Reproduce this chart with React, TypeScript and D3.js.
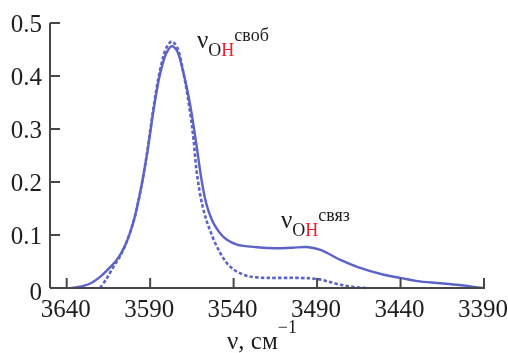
import React from "react";
import * as d3 from "d3";

// Wavenumbers (cm⁻¹) and absorbance of the two spectra
const solidNu = [3637, 3630, 3625, 3620, 3615, 3610, 3605, 3600, 3596, 3592, 3588, 3584, 3580, 3577, 3574, 3570, 3566, 3562.5, 3559, 3556, 3552, 3548, 3544, 3538, 3526, 3515, 3505, 3495, 3488, 3476, 3466, 3450, 3440, 3430, 3416, 3400, 3391];
const solidAbs = [0.0, 0.004, 0.01, 0.021, 0.036, 0.053, 0.08, 0.125, 0.18, 0.25, 0.335, 0.405, 0.445, 0.456, 0.448, 0.405, 0.345, 0.275, 0.2, 0.155, 0.122, 0.103, 0.091, 0.082, 0.077, 0.075, 0.076, 0.077, 0.072, 0.053, 0.04, 0.025, 0.019, 0.013, 0.009, 0.004, 0.0];

const dashedNu = [3620, 3616, 3612, 3608, 3605, 3600, 3596, 3592, 3588, 3584, 3580, 3577, 3574, 3570, 3566, 3564, 3562, 3558.5, 3554.3, 3548, 3542, 3534, 3526, 3500, 3490, 3483, 3476, 3468, 3460];
const dashedAbs = [0.0, 0.018, 0.04, 0.06, 0.08, 0.125, 0.18, 0.252, 0.34, 0.412, 0.455, 0.465, 0.455, 0.405, 0.33, 0.28, 0.216, 0.153, 0.11, 0.066, 0.04, 0.025, 0.02, 0.019, 0.017, 0.012, 0.006, 0.002, 0.0];

const xTicks = [3640, 3590, 3540, 3490, 3440, 3390];
const yTicks = [0, 0.1, 0.2, 0.3, 0.4, 0.5];

const LINE = "#5b63c6";
const AXIS = "#474747";
const TEXT = "#1e1e1e";
const RED = "#e8212b";

export default function App() {
  const x = d3.scaleLinear().domain([3650, 3390]).range([50, 484]);
  const y = d3.scaleLinear().domain([0, 0.5]).range([288, 23]);

  const line = d3
    .line<[number, number]>()
    .x((d) => x(d[0]))
    .y((d) => y(d[1]))
    .curve(d3.curveCatmullRom.alpha(0.5));

  const solid = line(solidNu.map((v, i) => [v, solidAbs[i]]) as [number, number][]) || "";
  const dashed = line(dashedNu.map((v, i) => [v, dashedAbs[i]]) as [number, number][]) || "";

  return (
    <svg width={508} height={353} style={{ position: "fixed", left: 0, top: 0 }} fontFamily="Liberation Serif">
      {/* spectra */}
      <path d={dashed} fill="none" stroke={LINE} strokeWidth={2.6} strokeDasharray="3.5 2.2" />
      <path d={solid} fill="none" stroke={LINE} strokeWidth={2.4} />

      {/* axes */}
      <line x1={x(3650)} x2={x(3650)} y1={y(0.5)} y2={y(0)} stroke={AXIS} strokeWidth={2} />
      <line x1={x(3650)} x2={x(3390) + 1} y1={y(0)} y2={y(0)} stroke={AXIS} strokeWidth={2} />

      {yTicks.map((t) => (
        <line key={"yt" + t} x1={x(3650)} x2={x(3650) + 10} y1={y(t)} y2={y(t)} stroke={AXIS} strokeWidth={2} />
      ))}
      {yTicks.map((t) => (
        <text
          key={"yl" + t}
          x={42}
          y={y(t) + (t === 0 ? 12 : 9)}
          textAnchor="end"
          fontSize={25}
          fill={TEXT}
          fontFamily="Liberation Serif"
          style={{ fontFamily: "Liberation Serif" }}
        >
          {t === 0 ? "0" : t.toFixed(1)}
        </text>
      ))}

      {xTicks.map((t) => (
        <line key={"xt" + t} x1={x(t)} x2={x(t)} y1={y(0)} y2={y(0) - 10} stroke={AXIS} strokeWidth={2} />
      ))}
      {xTicks.map((t) => (
        <text
          key={"xl" + t}
          x={x(t) - 1}
          y={317}
          textAnchor="middle"
          fontSize={25}
          fill={TEXT}
          fontFamily="Liberation Serif"
          style={{ fontFamily: "Liberation Serif" }}
        >
          {String(t)}
        </text>
      ))}

      {/* axis title */}
      <text x={227} y={349} fontSize={25} fill={TEXT} fontFamily="Liberation Serif" style={{ fontFamily: "Liberation Serif" }}>
        ν, см
        <tspan fontSize={18} dy={-16}>−1</tspan>
      </text>

      {/* band labels */}
      <text x={197} y={48} fontSize={25} fill={TEXT} fontFamily="Liberation Serif" style={{ fontFamily: "Liberation Serif" }}>
        ν
        <tspan fontSize={18} dy={8}>O</tspan>
        <tspan fontSize={18} fill={RED}>H</tspan>
        <tspan fontSize={18} dy={-15}>своб</tspan>
      </text>
      <text x={281} y={228} fontSize={25} fill={TEXT} fontFamily="Liberation Serif" style={{ fontFamily: "Liberation Serif" }}>
        ν
        <tspan fontSize={18} dy={8}>O</tspan>
        <tspan fontSize={18} fill={RED}>H</tspan>
        <tspan fontSize={18} dy={-15}>связ</tspan>
      </text>
    </svg>
  );
}
